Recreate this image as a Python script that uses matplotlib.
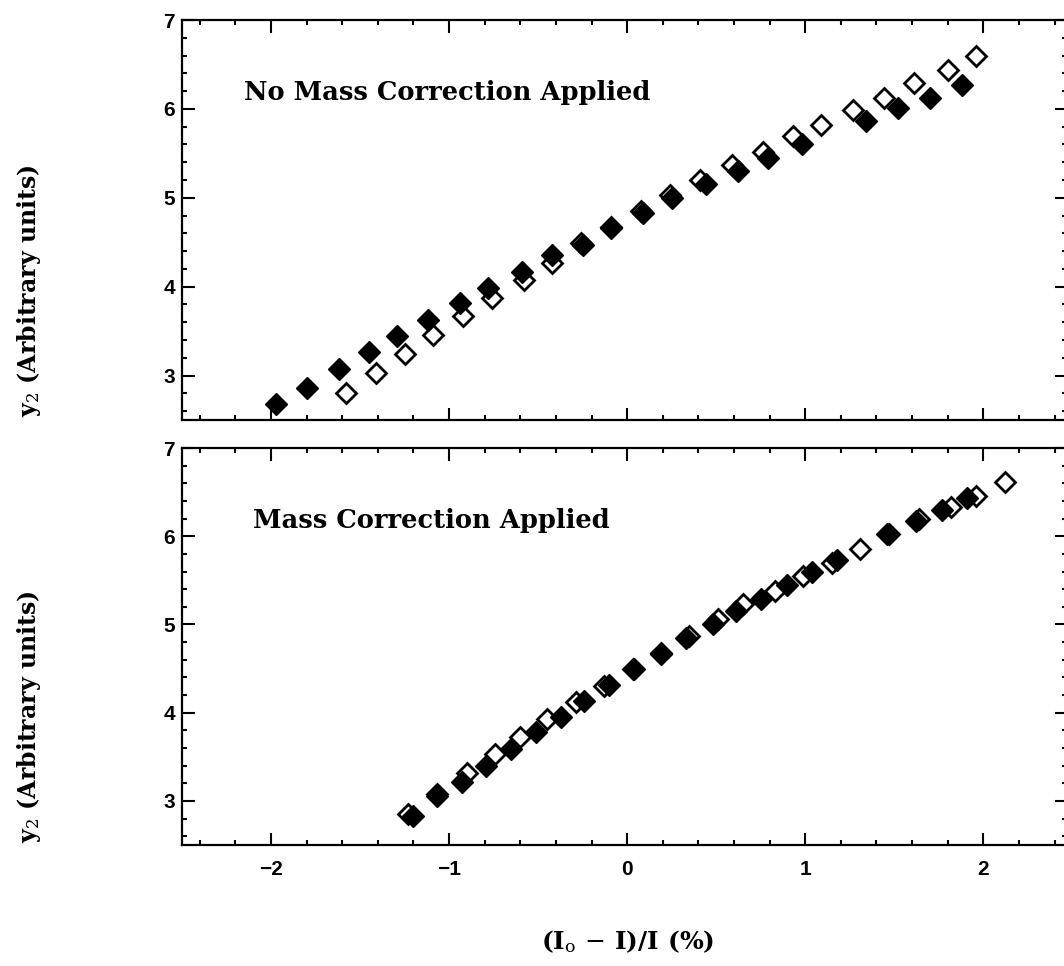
import matplotlib
matplotlib.use("Agg")
import matplotlib.pyplot as plt
from matplotlib.ticker import MultipleLocator

plt.rcParams['font.family'] = ['DejaVu Serif', 'DejaVu Sans']
plt.rcParams['mathtext.fontset'] = 'custom'
plt.rcParams['mathtext.rm'] = 'DejaVu Serif'
plt.rcParams['mathtext.it'] = 'DejaVu Serif'

# top panel: no mass correction
top_filled_x = [-1.97, -1.80, -1.62, -1.45, -1.29, -1.12, -0.94, -0.78, -0.59, -0.42, -0.25,
                -0.09, 0.09, 0.25, 0.44, 0.62, 0.79, 0.98, 1.34, 1.52, 1.70, 1.88]
top_filled_y = [2.68, 2.86, 3.07, 3.26, 3.44, 3.63, 3.82, 3.99, 4.17, 4.36, 4.47,
                4.66, 4.83, 5.00, 5.15, 5.30, 5.45, 5.60, 5.86, 6.01, 6.12, 6.27]
top_open_x = [-1.58, -1.41, -1.25, -1.09, -0.92, -0.76, -0.58, -0.42, -0.26, -0.09, 0.08, 0.24,
              0.41, 0.59, 0.76, 0.93, 1.09, 1.27, 1.44, 1.61, 1.80, 1.96]
top_open_y = [2.80, 3.03, 3.24, 3.46, 3.67, 3.87, 4.08, 4.27, 4.49, 4.67, 4.85, 5.03,
              5.20, 5.37, 5.52, 5.69, 5.82, 5.99, 6.12, 6.29, 6.44, 6.59]

# bottom panel: mass correction applied
bot_filled_x = [-1.20, -1.07, -0.93, -0.79, -0.65, -0.51, -0.37, -0.24, -0.10, 0.04, 0.19,
                0.33, 0.48, 0.61, 0.75, 0.90, 1.04, 1.18, 1.46, 1.62, 1.77, 1.91]
bot_filled_y = [2.83, 3.06, 3.21, 3.40, 3.59, 3.78, 3.95, 4.13, 4.31, 4.49, 4.66,
                4.85, 5.00, 5.15, 5.29, 5.45, 5.60, 5.73, 6.03, 6.17, 6.30, 6.43]
bot_open_x = [-1.23, -1.07, -0.90, -0.74, -0.60, -0.45, -0.29, -0.13, 0.03, 0.19, 0.35,
              0.51, 0.65, 0.83, 0.99, 1.15, 1.31, 1.47, 1.64, 1.82, 1.96, 2.12]
bot_open_y = [2.85, 3.08, 3.32, 3.53, 3.72, 3.93, 4.12, 4.30, 4.50, 4.68, 4.87,
              5.06, 5.23, 5.38, 5.55, 5.70, 5.86, 6.03, 6.19, 6.33, 6.46, 6.62]

panel_titles = ["No Mass Correction Applied", "Mass Correction Applied"]
ylabel = "y$_2$ (Arbitrary units)"
xlabel = "(I$_\\mathrm{o}$ $-$ I)/I (%)"

fig = plt.figure(figsize=(10.64, 9.66), dpi=100)
W, H = 1064.0, 966.0
x0, x1 = 182, 1067
ax_top = fig.add_axes([x0 / W, 1 - 420 / H, (x1 - x0) / W, 400 / H])
ax_bot = fig.add_axes([x0 / W, 1 - 845 / H, (x1 - x0) / W, 397 / H])

data = [(ax_top, top_open_x, top_open_y, top_filled_x, top_filled_y),
        (ax_bot, bot_open_x, bot_open_y, bot_filled_x, bot_filled_y)]

for i, (ax, ox, oy, fx, fy) in enumerate(data):
    ax.plot(ox, oy, 'D', ms=10, mfc='white', mec='black', mew=2.0, ls='none')
    ax.plot(fx, fy, 'D', ms=11, mfc='black', mec='black', mew=1.0, ls='none')
    ax.set_xlim(-2.5, 2.47)
    ax.set_ylim(2.5, 7)
    ax.xaxis.set_major_locator(MultipleLocator(1))
    ax.xaxis.set_minor_locator(MultipleLocator(0.2))
    ax.yaxis.set_major_locator(MultipleLocator(1))
    ax.yaxis.set_minor_locator(MultipleLocator(0.2))
    ax.tick_params(which='both', direction='in', top=True, right=True, width=1.5)
    ax.tick_params(which='major', length=9)
    ax.tick_params(which='minor', length=3.5)
    ax.tick_params(axis='y', labelsize=15, pad=5)
    ax.tick_params(axis='x', labelsize=15, pad=11)
    for lab in ax.get_xticklabels() + ax.get_yticklabels():
        lab.set_family('Liberation Sans')
        lab.set_fontweight('bold')
    for s in ax.spines.values():
        s.set_linewidth(1.6)
    ax.text(-2.15 if i == 0 else -2.1, 6.18, panel_titles[i], fontsize=18.5,
            fontweight='semibold', va='center', ha='left')
    ax.set_ylabel(ylabel, fontsize=17, fontweight='semibold')
    ax.yaxis.set_label_coords(-0.157, 0.322)

ax_top.tick_params(axis='x', labelbottom=False)
ax_bot.set_xlabel(xlabel, fontsize=18, fontweight='semibold')
ax_bot.xaxis.set_label_coords((628 - x0) / (x1 - x0), -0.21)

fig.savefig("out.png", dpi=100)
